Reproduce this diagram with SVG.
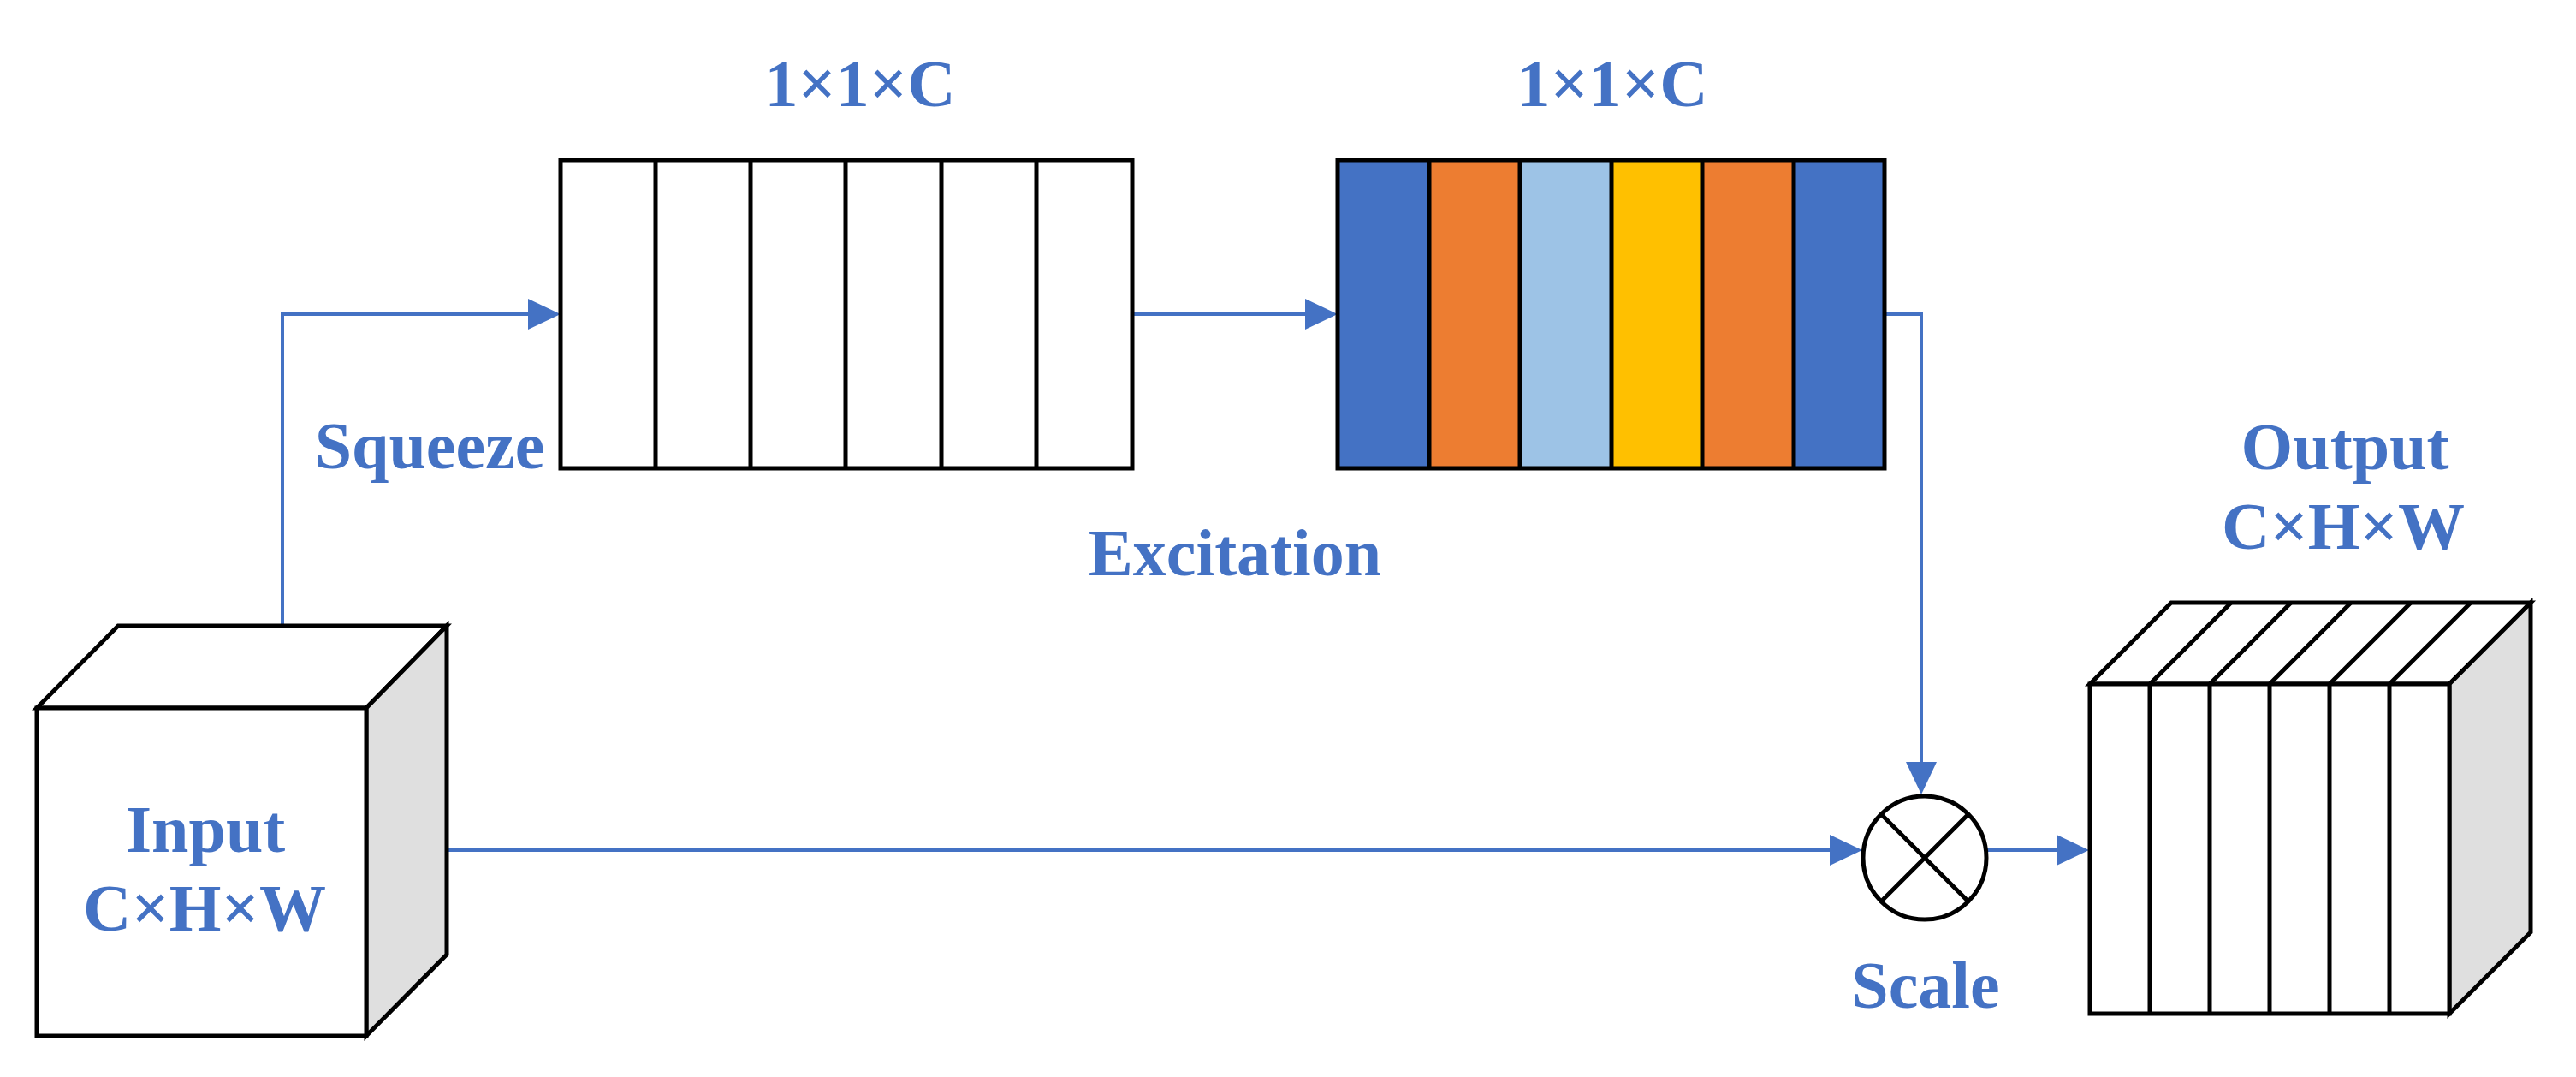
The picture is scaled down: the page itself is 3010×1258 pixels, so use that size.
<svg xmlns="http://www.w3.org/2000/svg" width="3010" height="1258" viewBox="0 0 3010 1258">
<style>
.lbl{font-family:"Liberation Serif","Times New Roman",serif;font-weight:bold;font-size:78px;fill:#4472C4;text-anchor:middle}
.edge{fill:none;stroke:#4472C4;stroke-width:4}
.box{stroke:#000;stroke-width:5;stroke-linejoin:miter}
.div{stroke:#000;stroke-width:5;fill:none}
.side{fill:#DFDFDF}
.face{fill:#FFFFFF}
</style>
<defs>
<marker id="arr" markerUnits="userSpaceOnUse" markerWidth="40" markerHeight="40" refX="28" refY="18" orient="auto">
<path d="M0,0 L38,18 L0,36 z" fill="#4472C4"/>
</marker>
</defs>
<rect x="0" y="0" width="3010" height="1258" fill="#FFFFFF"/>

<g id="connectors">
<path class="edge" d="M330,731 V367 H645" marker-end="url(#arr)"/>
<path class="edge" d="M1323,367 H1553" marker-end="url(#arr)"/>
<path class="edge" d="M2202,367 H2245 V918" marker-end="url(#arr)"/>
<path class="edge" d="M522,993 H2166" marker-end="url(#arr)"/>
<path class="edge" d="M2321,993 H2431" marker-end="url(#arr)"/>
</g>

<g id="input">
<polygon class="box face" points="43,827 138,731 522,731 428,827"/>
<polygon class="box side" points="428,827 522,731 522,1115 428,1210"/>
<rect class="box face" x="43" y="827" width="385" height="383"/>
<text class="lbl" x="240" y="995">Input</text>
<text class="lbl" x="239" y="1087">C×H×W</text>
</g>

<g id="squeeze">
<rect class="box face" x="655" y="187" width="668" height="360"/>
<path class="div" d="M766,187 V547 M877,187 V547 M988,187 V547 M1100,187 V547 M1211,187 V547"/>
<text class="lbl" x="1005" y="124">1×1×C</text>
</g>
<text id="squeeze-label" class="lbl" x="502" y="547">Squeeze</text>

<g id="excitation">
<rect x="1563" y="187" width="107" height="360" fill="#4472C4"/>
<rect x="1670" y="187" width="106" height="360" fill="#ED7D31"/>
<rect x="1776" y="187" width="107" height="360" fill="#9DC3E6"/>
<rect x="1883" y="187" width="106" height="360" fill="#FFC000"/>
<rect x="1989" y="187" width="107" height="360" fill="#ED7D31"/>
<rect x="2096" y="187" width="106" height="360" fill="#4472C4"/>
<rect class="box" x="1563" y="187" width="639" height="360" fill="none"/>
<path class="div" d="M1670,187 V547 M1776,187 V547 M1883,187 V547 M1989,187 V547 M2096,187 V547"/>
<text class="lbl" x="1884" y="124">1×1×C</text>
</g>
<text id="excitation-label" class="lbl" x="1443" y="672">Excitation</text>

<g id="scale">
<circle cx="2249" cy="1002" r="72" fill="#FFFFFF" stroke="#000" stroke-width="5"/>
<path class="div" d="M2198,951 L2300,1053 M2300,951 L2198,1053"/>
<text class="lbl" x="2250" y="1177">Scale</text>
</g>

<g id="output">
<polygon class="box face" points="2442,799 2537,704 2957,704 2862,799"/>
<polygon class="box side" points="2862,799 2957,704 2957,1089 2862,1184"/>
<rect class="box face" x="2442" y="799" width="420" height="385"/>
<path class="div" d="M2512,799 V1184 M2582,799 V1184 M2652,799 V1184 M2722,799 V1184 M2792,799 V1184"/>
<path class="div" d="M2512,799 L2607,704 M2582,799 L2677,704 M2652,799 L2747,704 M2722,799 L2817,704 M2792,799 L2887,704"/>
<text class="lbl" x="2740" y="548">Output</text>
<text class="lbl" x="2738" y="641">C×H×W</text>
</g>
</svg>
